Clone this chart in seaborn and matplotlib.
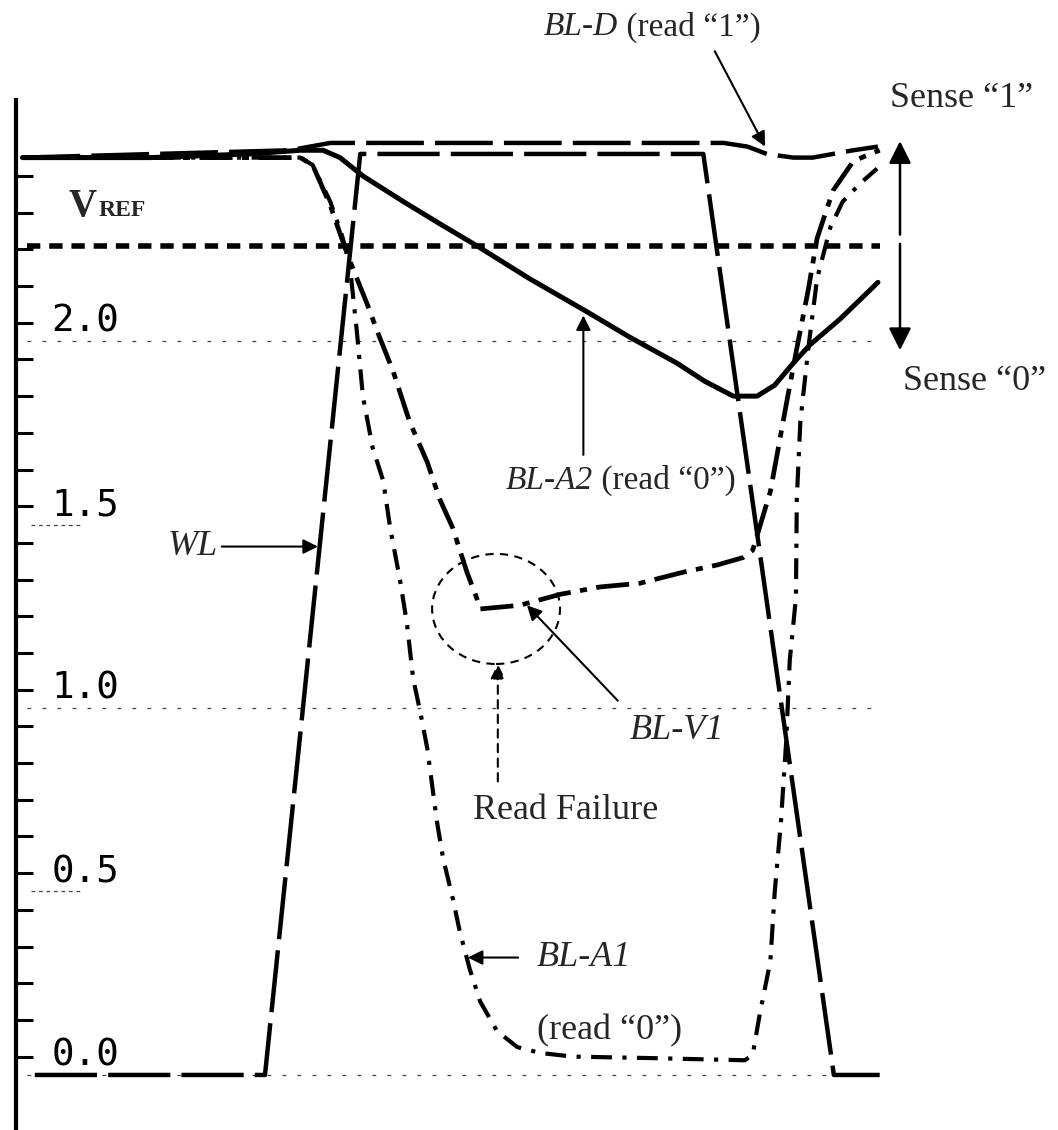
import numpy as np
import pandas as pd
import seaborn as sns
import matplotlib.pyplot as plt
from matplotlib.patches import Ellipse

# time axis (arbitrary units, 0..10) and voltages (V)
wl_t = [0.19, 2.80, 3.88, 7.77, 9.25, 9.77]
wl_v = [0.0, 0.0, 2.51, 2.51, 0.0, 0.0]

bla2_t = [0.05, 1.50, 2.63, 3.20, 3.46, 3.65, 3.91, 4.37, 4.78, 5.20, 5.80,
          6.45, 6.94, 7.47, 7.79, 8.11, 8.38, 8.58, 8.79, 8.98, 9.32, 9.75]
bla2_v = [2.50, 2.50, 2.51, 2.52, 2.52, 2.50, 2.45, 2.38, 2.32, 2.26, 2.17,
          2.08, 2.01, 1.94, 1.89, 1.85, 1.85, 1.88, 1.94, 1.99, 2.06, 2.16]

bld_t = [0.05, 3.08, 3.54, 8.00, 8.27, 8.49, 8.79, 9.01, 9.24, 9.47, 9.75]
bld_v = [2.50, 2.52, 2.54, 2.54, 2.53, 2.51, 2.50, 2.50, 2.51, 2.52, 2.53]

bla1_t = [0.05, 3.20, 3.34, 3.54, 3.67, 3.76, 3.84, 3.91, 4.02, 4.14, 4.22,
          4.33, 4.41, 4.48, 4.56, 4.64, 4.75, 4.82, 4.93, 5.01, 5.12, 5.24,
          5.43, 5.66, 5.92, 6.29, 7.17, 8.24, 8.33, 8.41, 8.53, 8.58, 8.65,
          8.71, 8.75, 8.82, 8.83, 8.87, 8.96, 9.06, 9.21, 9.35, 9.55, 9.74]
bla1_v = [2.50, 2.50, 2.48, 2.38, 2.29, 2.21, 2.03, 1.85, 1.71, 1.62, 1.49,
          1.35, 1.23, 1.08, 0.99, 0.89, 0.69, 0.59, 0.48, 0.39, 0.29, 0.20,
          0.12, 0.076, 0.06, 0.05, 0.046, 0.04, 0.055, 0.166, 0.31, 0.50, 0.69,
          0.91, 1.13, 1.30, 1.57, 1.78, 1.98, 2.17, 2.31, 2.38, 2.43, 2.47]

blv1_t = [0.05, 3.20, 3.34, 3.54, 3.67, 3.76, 3.96, 4.10, 4.25, 4.44, 4.64,
          4.78, 4.93, 5.09, 5.20, 5.24, 5.69, 6.15, 6.60, 7.05, 7.54, 7.93,
          8.22, 8.33, 8.53, 8.72, 8.83, 8.96, 9.06, 9.24, 9.47, 9.66, 9.77]
blv1_v = [2.50, 2.50, 2.48, 2.37, 2.28, 2.22, 2.10, 2.01, 1.92, 1.78, 1.67,
          1.57, 1.49, 1.37, 1.30, 1.27, 1.28, 1.31, 1.33, 1.34, 1.37, 1.39,
          1.41, 1.43, 1.59, 1.84, 1.98, 2.14, 2.28, 2.41, 2.49, 2.51, 2.52]

vref = 2.26
grid_full = [0.0, 1.0, 2.0]
grid_short = [0.5, 1.5]
tick_labels = ["0.0", "0.5", "1.0", "1.5", "2.0"]
tick_values = [0.0, 0.5, 1.0, 1.5, 2.0]

sns.set_theme(style="white")
plt.rcParams["font.family"] = ["Liberation Serif", "DejaVu Serif"]

fig = plt.figure(figsize=(10.58, 11.30), dpi=100)
ax = fig.add_axes([16 / 1058, 0, 884 / 1058, 1030 / 1130])
ax.set_xlim(-0.023, 10.0)
ax.set_ylim(-0.15, 2.657)

# grid lines (sparse dotted)
for g in grid_full:
    ax.plot([0.1, 9.77], [g, g], color="0.25", lw=0.9, ls=(0, (3, 9)))
for g in grid_short:
    ax.plot([0.15, 0.7], [g, g], color="0.25", lw=0.9, ls=(0, (3, 3)))

ax.plot([0.1, 9.77], [vref, vref], color="black", lw=4, ls=(0, (2.4, 1.6)))

def draw(t, v, lw, ls):
    df = pd.DataFrame({"t": t, "v": v})
    sns.lineplot(data=df, x="t", y="v", ax=ax, color="black", lw=lw,
                 linestyle=ls, estimator=None, sort=False)

draw(bla1_t, bla1_v, 3.0, (0, (5, 2.5, 1, 2.5)))
draw(blv1_t, blv1_v, 3.4, (0, (7, 2, 1.5, 2)))
draw(bld_t, bld_v, 3.2, (0, (13, 2.5)))
draw(wl_t, wl_v, 3.2, (0, (14, 2.5)))
draw(bla2_t, bla2_v, 3.6, "-")

# axis styling
for s in ["top", "right", "bottom"]:
    ax.spines[s].set_visible(False)
ax.spines["left"].set_linewidth(3)
ax.spines["left"].set_color("black")
ax.set_xticks([])
ax.set_yticks(np.round(np.arange(0, 2.46, 0.1), 2))
ax.set_yticks(np.round(np.arange(0.05, 2.46, 0.1), 2), minor=True)
ax.tick_params(axis="y", which="major", direction="in", length=22, width=2.2,
               labelleft=False, color="black")
ax.tick_params(axis="y", which="minor", direction="in", length=12, width=2.2,
               color="black", left=True)
ax.set_xlabel("")
ax.set_ylabel("")

for lab, val in zip(tick_labels, tick_values):
    ax.text(0.38, val + 0.025, lab, family="DejaVu Sans Mono", fontsize=27,
            ha="left", va="baseline", color="black")

fs = 26
arrow = dict(arrowstyle="-|>", color="black", lw=1.5, mutation_scale=22,
             shrinkA=0, shrinkB=0)

# V_REF
ax.text(0.57, 2.34, "V", fontsize=28, fontweight="bold", ha="left", va="baseline")
ax.text(0.91, 2.34, "REF", fontsize=17, fontweight="bold", ha="left", va="baseline")

# BL-D
ax.text(6.80, 2.856, "BL-D", fontsize=24, style="italic", ha="right", va="center",
        clip_on=False)
ax.text(6.80, 2.856, " (read \u201c1\u201d)", fontsize=24, ha="left", va="center",
        clip_on=False)
ax.annotate("", xy=(8.47, 2.53), xytext=(7.90, 2.79), arrowprops=arrow,
            annotation_clip=False)

# Sense arrows
ax.text(10.70, 2.66, "Sense \u201c1\u201d", fontsize=fs, ha="center", va="center",
        clip_on=False)
ax.text(10.85, 1.89, "Sense \u201c0\u201d", fontsize=fs, ha="center", va="center",
        clip_on=False)
big = dict(arrowstyle="-|>", color="black", lw=1.8, mutation_scale=34,
           shrinkA=0, shrinkB=0)
ax.annotate("", xy=(10.0, 2.545), xytext=(10.0, 2.29), arrowprops=big,
            annotation_clip=False)
ax.annotate("", xy=(10.0, 1.975), xytext=(10.0, 2.265), arrowprops=big,
            annotation_clip=False)

# BL-A2
ax.text(6.52, 1.62, "BL-A2", fontsize=24, style="italic", ha="right", va="center")
ax.text(6.52, 1.62, " (read \u201c0\u201d)", fontsize=24, ha="left", va="center")
ax.annotate("", xy=(6.41, 2.07), xytext=(6.41, 1.69), arrowprops=arrow)

# WL
ax.text(1.98, 1.44, "WL", fontsize=fs, style="italic", ha="center", va="center")
ax.annotate("", xy=(3.40, 1.44), xytext=(2.31, 1.44), arrowprops=arrow)

# Read failure
ax.add_patch(Ellipse((5.42, 1.27), 1.45, 0.30, fill=False, lw=1.5,
                     ls=(0, (4, 3)), color="black"))
ax.text(6.21, 0.72, "Read Failure", fontsize=fs, ha="center", va="center")
ax.annotate("", xy=(5.44, 1.12), xytext=(5.44, 0.80),
            arrowprops=dict(arrowstyle="-|>", color="black", lw=1.5,
                            mutation_scale=22, linestyle=(0, (4, 3)),
                            shrinkA=0, shrinkB=0))

# BL-V1
ax.text(7.47, 0.94, "BL-V1", fontsize=fs, style="italic", ha="center", va="center")
ax.annotate("", xy=(5.77, 1.28), xytext=(6.80, 1.02), arrowprops=arrow)

# BL-A1
ax.text(5.88, 0.32, "BL-A1", fontsize=fs, style="italic", ha="left", va="center")
ax.text(5.88, 0.12, "(read \u201c0\u201d)", fontsize=fs, ha="left", va="center")
ax.annotate("", xy=(5.10, 0.32), xytext=(5.67, 0.32), arrowprops=arrow)

fig.savefig("out.png", dpi=100)
